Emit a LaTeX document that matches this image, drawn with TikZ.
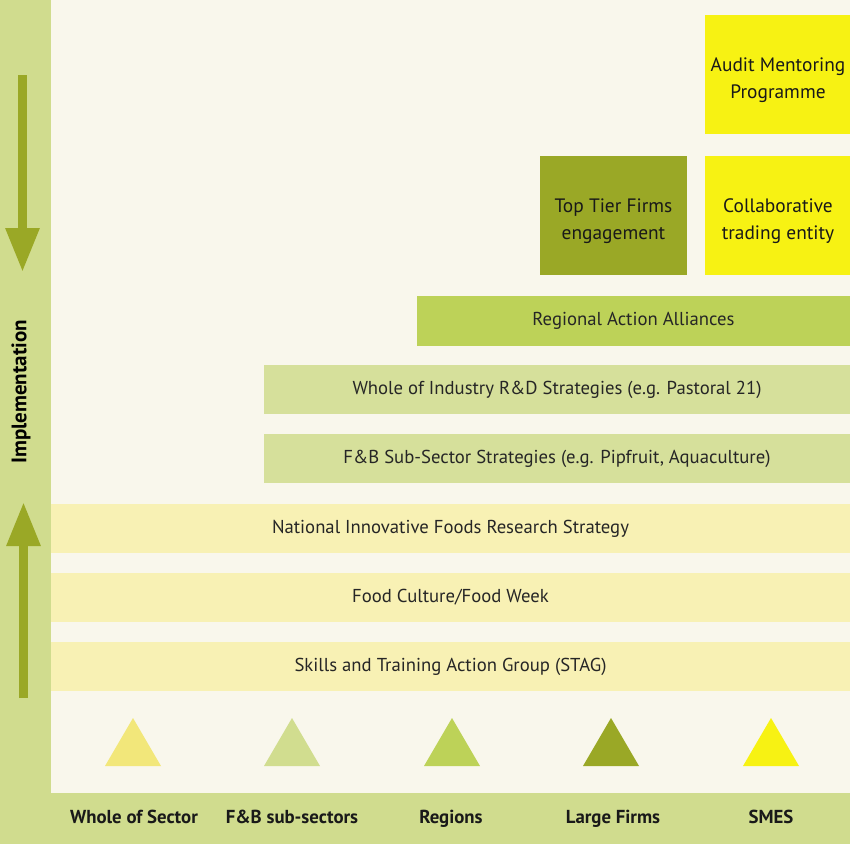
\documentclass[tikz,border=0pt]{standalone}
\usepackage{fontspec}
\setmainfont{PT Sans}
\usetikzlibrary{arrows.meta}
\definecolor{cream}{HTML}{F9F7EC}
\definecolor{band}{HTML}{D0DC8E}
\definecolor{paleyellow}{HTML}{F8F1B4}
\definecolor{lightgreen}{HTML}{D6E09B}
\definecolor{midgreen}{HTML}{BDD258}
\definecolor{olive}{HTML}{9AA826}
\definecolor{brightyellow}{HTML}{F7F213}
\definecolor{triyellow}{HTML}{F2E77A}
\definecolor{trilight}{HTML}{D1DD8F}
\newcommand\blockstrut{\rule{0pt}{26pt}}
\tikzset{
	bar/.style={rectangle, inner sep=0pt, minimum height=49pt, font=\fontsize{18.7}{22}\selectfont, text=black!85},
	block/.style={rectangle, inner sep=0pt, minimum width=146pt, minimum height=119pt, align=center, font=\fontsize{19.4}{27}\selectfont, text=black!90},
	cat/.style={anchor=base, font=\bfseries\fontsize{18.8}{22}\selectfont, text=black!90},
	bigarrow/.style={line width=9pt, draw=olive, -{Triangle[width=32pt,length=44pt]}}
}
\begin{document}
\begin{tikzpicture}[x=1pt,y=-1pt]
		\useasboundingbox (0,0) rectangle (850,844);
		% background and bands
		\fill[cream] (0,0) rectangle (850,844);
		\fill[band] (0,0) rectangle (51,844);
		\fill[band] (0,793) rectangle (850,844);

		% implementation arrows
		\coordinate (dtop) at (22.5,75);
		\coordinate (dtip) at (22.5,272);
		\coordinate (ubot) at (23.5,698);
		\coordinate (utip) at (23.5,502);
		\draw[bigarrow] (dtop) -- (dtip);
		\draw[bigarrow] (ubot) -- (utip);
		\node[rotate=90, font=\bfseries\fontsize{21}{24}\selectfont] (impl) at (21,392) {Implementation};

		% whole of sector bars
		\node[bar, fill=paleyellow, minimum width=799pt] (stag) at (450.5,666.5) {Skills and Training Action Group (STAG)};
		\node[bar, fill=paleyellow, minimum width=799pt] (food) at (450.5,597.5) {Food Culture/Food Week};
		\node[bar, fill=paleyellow, minimum width=799pt] (nifrs) at (450.5,528.5) {National Innovative Foods Research Strategy};

		% sub-sector bars
		\node[bar, fill=lightgreen, minimum width=586pt] (fbss) at (557,458.5) {F\&B Sub-Sector Strategies (e.g. Pipfruit, Aquaculture)};
		\node[bar, fill=lightgreen, minimum width=586pt] (whole) at (557,389.5) {Whole of Industry R\&D Strategies (e.g. Pastoral 21)};

		% regions
		\node[bar, fill=midgreen, minimum width=433pt, minimum height=50pt] (raa) at (633.5,321) {Regional Action Alliances};

		% firms
		\node[block, fill=olive, minimum width=147pt] (top) at (613.5,215.5) {\blockstrut Top Tier Firms\\engagement};
		\node[block, fill=brightyellow] (collab) at (778,215.5) {\blockstrut Collaborative\\trading entity};
		\node[block, fill=brightyellow] (audit) at (778,74.5) {\blockstrut Audit Mentoring\\Programme};

		% triangles
		\fill[triyellow] (105,766) -- (133,718) -- (161,766) -- cycle;
		\fill[trilight] (264,766) -- (292,718) -- (320,766) -- cycle;
		\fill[midgreen] (424,766) -- (452,718) -- (480,766) -- cycle;
		\fill[olive] (583,766) -- (611,718) -- (639,766) -- cycle;
		\fill[brightyellow] (743,766) -- (771,718) -- (799,766) -- cycle;

		% categories
		\node[cat] (wos) at (134,823) {Whole of Sector};
		\node[cat] (fbs) at (292,823) {F\&B sub-sectors};
		\node[cat] (reg) at (451,823) {Regions};
		\node[cat] (lf) at (613,823) {Large Firms};
		\node[cat] (smes) at (771,823) {SMES};
	\end{tikzpicture}
\end{document}
